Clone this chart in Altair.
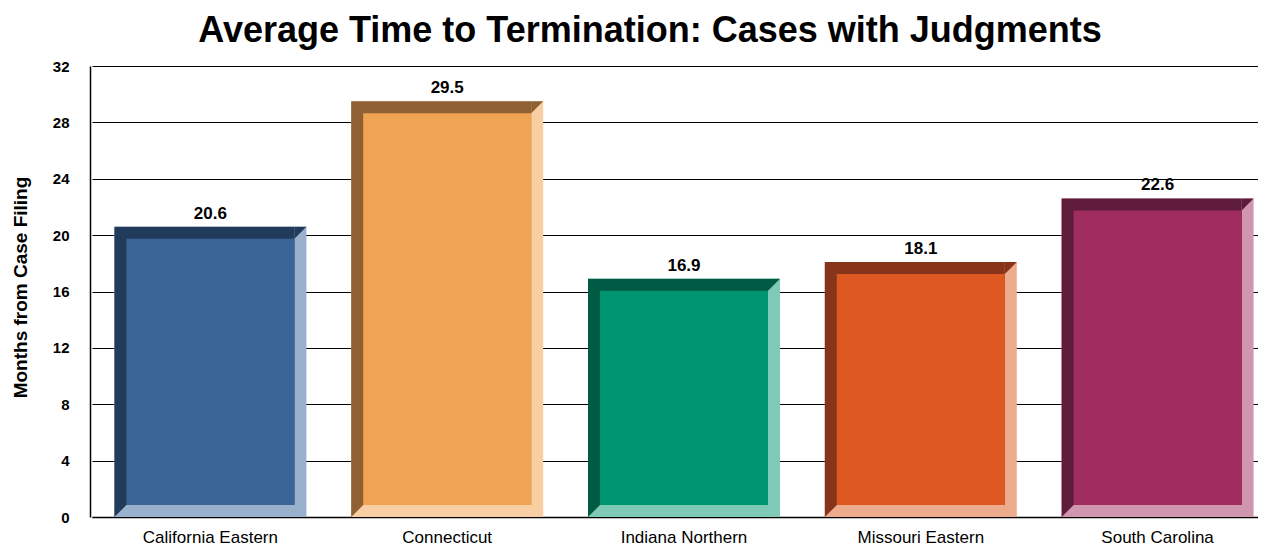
import altair as alt
import pandas as pd

categories = ["California Eastern", "Connecticut", "Indiana Northern", "Missouri Eastern", "South Carolina"]
months = [20.6, 29.5, 16.9, 18.1, 22.6]

face_colors = ["#3A6597", "#EFA353", "#009571", "#DE5821", "#A02C60"]
dark_colors = ["#223B5B", "#8E6033", "#005B45", "#86341A", "#5F1B3A"]
light_colors = ["#9AB1CD", "#F8CFA2", "#7FCAB6", "#EEAC8F", "#D095AF"]

df = pd.DataFrame({"district": categories, "months": months})

FONT = "Liberation Sans"
BEV = 12
BAR_W = 192

x_enc = alt.X(
    "district:N",
    sort=categories,
    scale=alt.Scale(range=[2, 1186], paddingInner=0, paddingOuter=0),
    axis=alt.Axis(
        title=None, labelAngle=0, ticks=False, labelFontSize=17, labelFont=FONT,
        labelColor="#000", labelPadding=12, domainColor="#000", domainWidth=1.5,
    ),
)
y_enc = alt.Y(
    "months:Q",
    stack=None,
    scale=alt.Scale(domain=[0, 32], nice=False),
    axis=alt.Axis(
        title="Months from Case Filing", values=list(range(0, 33, 4)), ticks=False,
        labelFontSize=15, labelFontWeight="bold", labelFont=FONT, labelColor="#000",
        labelPadding=21, grid=True, gridColor="#000", gridWidth=1,
        domainColor="#000", domainWidth=1.5,
        titleFontSize=19, titleFont=FONT, titleFontWeight="bold", titleColor="#000",
        titleX=-70, titleY=221, titleAngle=-90, titleAlign="center", titleBaseline="middle",
    ),
)
y2_enc = alt.Y2(datum=0)


def col(rng):
    return alt.Color("district:N", scale=alt.Scale(domain=categories, range=rng), legend=None)


base = alt.Chart(df)

light = base.mark_bar(width=BAR_W).encode(x=x_enc, y=y_enc, y2=y2_enc, color=col(light_colors))
dark = base.mark_bar(width=BAR_W - BEV, xOffset=-BEV / 2, y2Offset=-BEV).encode(
    x=x_enc, y=y_enc, y2=y2_enc, color=col(dark_colors)
)
tri_path = "M-1,-1L1,-1L-1,1Z"
tri_top = base.mark_point(
    shape=tri_path, size=BEV * BEV, filled=True, opacity=1, strokeWidth=0,
    xOffset=BAR_W / 2 - BEV / 2, yOffset=BEV / 2,
).encode(x=x_enc, y=y_enc, color=col(dark_colors))
tri_bottom = base.mark_point(
    shape=tri_path, size=BEV * BEV, filled=True, opacity=1, strokeWidth=0,
    xOffset=-BAR_W / 2 + BEV / 2, yOffset=-BEV / 2,
).encode(x=x_enc, y=alt.datum(0), color=col(dark_colors))
face = base.mark_bar(width=BAR_W - 2 * BEV, yOffset=BEV, y2Offset=-BEV).encode(
    x=x_enc, y=y_enc, y2=y2_enc, color=col(face_colors)
)
labels = base.mark_text(
    dy=-8, baseline="alphabetic", fontSize=17, fontWeight="bold", font=FONT, color="#000"
).encode(x=x_enc, y=y_enc, text=alt.Text("months:Q", format=".1f"))

chart = (
    alt.layer(light, dark, tri_top, tri_bottom, face, labels)
    .resolve_scale(color="independent")
    .properties(
        width=1168,
        height=451,
        autosize=alt.AutoSizeParams(type="none"),
        padding={"left": 82, "top": 58, "right": 0, "bottom": 32},
        title=alt.TitleParams(
            "Average Time to Termination: Cases with Judgments",
            fontSize=36, fontWeight="bold", font=FONT, color="#000",
            anchor="middle", dx=-24, baseline="alphabetic", offset=-19,
        ),
    )
    .configure_view(strokeWidth=0)
)

chart.save("out.html", embed_options={"renderer": "svg", "actions": False})
